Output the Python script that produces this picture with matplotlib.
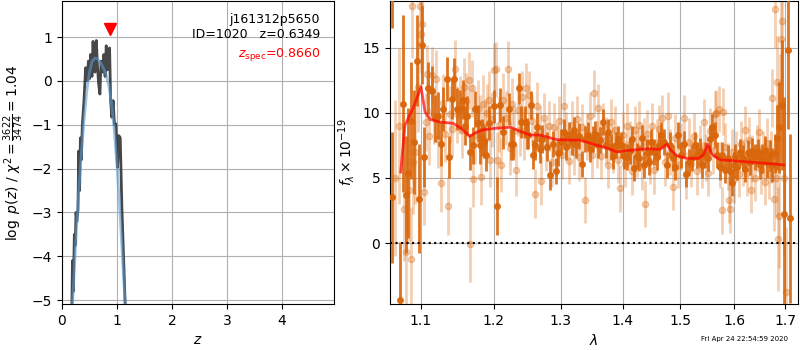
import numpy as np
import matplotlib
matplotlib.use("Agg")
import matplotlib.pyplot as plt
from matplotlib.ticker import FixedLocator, NullLocator, FixedFormatter

# ---------------- p(z) panel data ----------------
pz_z = [0.18, 0.19, 0.205, 0.225, 0.24, 0.255, 0.27, 0.29, 0.305, 0.32, 0.335, 0.35, 0.37,
        0.40, 0.43, 0.46, 0.48, 0.50, 0.52, 0.545, 0.565, 0.585, 0.60, 0.625, 0.645,
        0.665, 0.69, 0.71, 0.735, 0.76, 0.785, 0.805, 0.825, 0.845, 0.866, 0.885,
        0.907, 0.93, 0.955, 0.98, 1.01, 1.035, 1.06, 1.09, 1.12, 1.15]
pz_logp = [-5.1, -4.1, -4.8, -3.5, -3.75, -3.0, -3.2, -2.95, -1.6, -2.5, -1.3, -1.8, -1.0,
           -0.45, 0.3, 0.0, 0.45, 0.05, 0.6, 0.1, 0.9, 0.3, 0.2, 0.92, 0.35,
           -0.05, -0.3, 0.45, 0.2, 0.6, 0.1, 0.8, 0.25, 0.7, 0.75, -0.45,
           -0.83, -0.45, -1.0, -0.98, -1.97, -1.25, -1.3, -2.9, -4.0, -5.1]
pz_smooth_z = [0.19, 0.25, 0.30, 0.35, 0.40, 0.45, 0.50, 0.55, 0.60, 0.65, 0.70, 0.75,
               0.80, 0.85, 0.90, 0.95, 1.00, 1.05, 1.10, 1.15]
pz_smooth_logp = [-5.1, -3.7, -2.6, -1.7, -0.9, -0.25, 0.2, 0.45, 0.52, 0.5, 0.42, 0.3,
                  0.15, -0.1, -0.5, -1.1, -1.9, -2.9, -4.0, -5.1]
z_spec = 0.8660
z_best = 0.6349

# ---------------- spectrum panel data ----------------
dark_wave = [1.063, 1.063, 1.0727, 1.0768, 1.080, 1.083, 1.0876, 1.091, 1.095, 1.098, 1.1009,
             1.1045, 1.109, 1.115, 1.119, 1.123, 1.126, 1.130, 1.1343, 1.138, 1.141, 1.1445,
             1.148, 1.152, 1.156, 1.159, 1.1625, 1.167, 1.170, 1.174, 1.177, 1.180, 1.1835,
             1.186, 1.1895, 1.193, 1.2005, 1.204, 1.2095, 1.214, 1.2215, 1.225, 1.228, 1.2365,
             1.240, 1.245, 1.2485, 1.250, 1.254, 1.257, 1.261, 1.264, 1.268, 1.271, 1.2785,
             1.283, 1.288, 1.292, 1.296, 1.300, 1.305, 1.309, 1.3135, 1.317, 1.321, 1.3245,
             1.3288, 1.3336, 1.3383, 1.3426, 1.3465, 1.3505, 1.3544, 1.359, 1.3625, 1.3675,
             1.3718, 1.376, 1.3805, 1.3845, 1.389, 1.393, 1.398, 1.403, 1.4075, 1.4115, 1.4155,
             1.419, 1.4236, 1.4275, 1.432, 1.4366, 1.4405, 1.4445, 1.449, 1.454, 1.458, 1.4625,
             1.4665, 1.4715, 1.476, 1.481, 1.486, 1.491, 1.495, 1.501, 1.506, 1.511, 1.516,
             1.5215, 1.527, 1.531, 1.5355, 1.540, 1.545, 1.5495, 1.5545, 1.5586, 1.5635, 1.568,
             1.573, 1.5774, 1.5825, 1.587, 1.5915, 1.596, 1.5985, 1.601, 1.606, 1.6115, 1.616,
             1.620, 1.6255, 1.6305, 1.635, 1.6405, 1.645, 1.650, 1.6545, 1.660, 1.6645, 1.6695,
             1.674, 1.679, 1.6835, 1.688, 1.693, 1.698, 1.705, 1.711]
dark_flux = [19.5, 3.5, -4.4, 10.7, 3.7, 5.4, 9.4, 7.8, 14.0, 3.4, 15.2,
             6.6, 11.9, 11.7, 9.6, 9.8, 7.6, 10.3, 12.6, 6.6, 11.1, 12.6,
             10.3, 10.3, 11.0, 9.0, 9.8, 7.0, 7.5, 10.3, 9.2, 7.5, 8.1,
             7.8, 6.8, 9.2, 10.5, 2.85, 10.6, 8.5, 10.3, 7.6, 7.6, 11.9,
             9.3, 9.3, 8.4, 8.3, 10.6, 6.8, 7.5, 8.9, 7.25, 8.0, 7.4,
             5.2, 7.6, 5.5, 6.9, 7.8, 8.5, 7.4, 8.3, 7.8, 8.7, 7.5,
             8.2, 6.05, 8.0, 8.3, 7.25, 8.0, 8.4, 7.5, 7.9, 9.3,
             7.5, 8.5, 7.4, 6.7, 7.5, 8.0, 7.5, 6.7, 6.6, 7.1, 8.0,
             5.8, 6.7, 6.5, 8.1, 6.0, 7.0, 6.2, 7.8, 7.0, 6.6, 7.5,
             8.3, 7.8, 6.0, 7.5, 6.5, 5.85, 8.3, 6.75, 7.6, 5.3, 6.2,
             6.5, 7.5, 6.75, 7.1, 6.0, 6.75, 6.5, 8.0, 8.9, 8.3, 6.75,
             5.85, 6.75, 5.6, 6.5, 5.5, 4.65, 6.0, 6.6, 5.85, 7.0, 6.5,
             5.7, 6.9, 6.2, 7.1, 6.6, 7.0, 6.0, 6.5, 7.1, 6.2, 6.75,
             6.0, 6.9, 8.1, 8.9, 10.6, 2.25, 14.8, 1.9]
dark_err = [3.0, 5.0, 4.5, 6.8, 4.5, 5.0, 4.5, 4.0, 3.5, 4.2, 3.0,
            2.3, 2.0, 1.9, 1.8, 1.8, 1.7, 1.7, 1.7, 1.6, 1.6, 1.6,
            1.6, 1.5, 1.5, 1.5, 1.5, 1.4, 1.4, 1.4, 1.4, 1.4, 1.4,
            1.3, 1.3, 1.3, 1.3, 2.2, 1.3, 1.3, 1.2, 1.2, 1.2, 1.2,
            1.2, 1.2, 1.2, 1.1, 1.1, 1.1, 1.1, 1.1, 1.1, 1.1, 1.1,
            1.1, 1.0, 1.0, 1.0, 1.0, 1.0, 1.0, 1.0, 1.0, 1.0, 1.0,
            1.0, 1.0, 1.0, 1.0, 1.0, 1.0, 1.0, 1.0, 1.0, 1.0,
            1.0, 1.0, 1.0, 1.0, 1.0, 1.0, 1.0, 1.0, 1.0, 1.0, 1.0,
            1.0, 1.0, 1.0, 1.0, 1.0, 1.0, 1.0, 1.0, 1.0, 1.0, 1.0,
            1.0, 1.0, 1.0, 1.0, 1.0, 1.0, 1.0, 1.0, 1.0, 1.0, 1.0,
            1.0, 1.0, 1.0, 1.0, 1.0, 1.0, 1.0, 1.0, 1.0, 1.0, 1.0,
            1.0, 1.0, 1.0, 1.0, 1.0, 1.0, 1.0, 1.0, 1.0, 1.0, 1.0,
            1.0, 1.0, 1.0, 1.0, 1.0, 1.0, 1.1, 1.1, 1.1, 1.2, 1.2,
            1.3, 1.5, 2.5, 3.5, 5.0, 9.0, 6.0, 6.5]

light_wave = [1.066, 1.072, 1.078, 1.081, 1.084, 1.087, 1.088, 1.090, 1.092, 1.096, 1.099, 1.100,
              1.102, 1.1045, 1.107, 1.108, 1.111, 1.1145, 1.117, 1.1205, 1.123, 1.1265, 1.129,
              1.132, 1.136, 1.139, 1.142, 1.1455, 1.149, 1.152, 1.155, 1.158, 1.161, 1.165,
              1.166, 1.169, 1.171, 1.174, 1.177, 1.180, 1.182, 1.185, 1.188, 1.190, 1.193,
              1.195, 1.198, 1.2005, 1.203, 1.205, 1.208, 1.211, 1.214, 1.217, 1.220, 1.223,
              1.226, 1.229, 1.2325, 1.235, 1.238, 1.241, 1.244, 1.247, 1.251, 1.256, 1.260,
              1.264, 1.268, 1.270, 1.274, 1.278, 1.282, 1.286, 1.290, 1.294, 1.298, 1.302,
              1.305, 1.309, 1.313, 1.317, 1.321, 1.325, 1.329, 1.333, 1.338, 1.342, 1.346,
              1.350, 1.353, 1.357, 1.360, 1.364, 1.368, 1.372, 1.376, 1.380, 1.384, 1.388,
              1.392, 1.396, 1.400, 1.404, 1.408, 1.412, 1.416, 1.420, 1.424, 1.428, 1.432,
              1.436, 1.438, 1.442, 1.446, 1.450, 1.454, 1.458, 1.462, 1.468, 1.472, 1.478,
              1.482, 1.487, 1.491, 1.496, 1.501, 1.506, 1.510, 1.515, 1.520, 1.525, 1.530,
              1.535, 1.539, 1.543, 1.547, 1.551, 1.555, 1.559, 1.563, 1.566, 1.570, 1.573,
              1.576, 1.579, 1.583, 1.587, 1.590, 1.592, 1.596, 1.600, 1.604, 1.608, 1.612,
              1.616, 1.620, 1.624, 1.628, 1.6315, 1.635, 1.639, 1.643, 1.647, 1.651, 1.655,
              1.659, 1.663, 1.667, 1.671, 1.674, 1.678, 1.680, 1.682, 1.684, 1.685, 1.688,
              1.690, 1.6925, 1.694, 1.697, 1.701]
light_flux = [5.0, 9.0, 2.6, -0.7, 4.05, -1.2, 18.2, 6.2, 7.0, 12.0, 18.2, 16.1,
              16.8, 3.9, 9.3, 13.0, 8.2, 12.9, 9.8, 12.6, 8.0, 4.6, 10.8,
              8.4, 2.85, 9.9, 8.8, 13.4, 9.9, 10.6, 8.7, 12.0, 10.9, 12.5,
              -0.1, 11.9, 4.95, 8.3, 10.3, 9.2, 5.1, 10.7, 8.9, 10.0, 11.0,
              6.4, 9.5, 13.3, 13.35, 6.4, 9.1, 6.0, 11.0, 9.6, 13.4, 7.3,
              10.7, 8.6, 5.6, 10.2, 8.7, 11.2, 8.4, 11.9, 11.35, 9.4, 3.8,
              10.5, 8.6, 4.8, 9.6, 7.4, 9.0, 6.2, 8.9, 7.2, 9.4, 6.8,
              10.5, 8.3, 6.3, 9.1, 7.0, 9.5, 6.6, 8.9, 3.3, 8.2, 9.8,
              6.8, 11.5, 7.6, 10.4, 6.7, 9.0, 7.9, 6.0, 9.3, 7.2, 8.7,
              6.4, 4.2, 8.3, 6.1, 9.0, 7.6, 5.5, 8.7, 6.9, 9.1, 5.9,
              7.8, 3.0, 8.4, 6.3, 9.0, 5.6, 7.7, 8.8, 9.6, 6.2, 9.8,
              7.0, 4.3, 8.1, 6.0, 7.4, 9.6, 5.2, 7.8, 6.1, 8.2, 5.5,
              7.3, 6.0, 9.3, 6.6, 5.4, 8.6, 7.1, 9.9, 10.0, 10.3, 6.0,
              2.5, 10.1, 7.4, 5.9, 3.3, 2.6, 7.0, 4.9, 6.8, 5.3, 7.6,
              6.2, 8.7, 5.4, 7.9, 4.1, 6.5, 5.0, 7.3, 8.5, 5.6, 6.8,
              4.7, 7.7, 5.3, 6.6, 11.15, 3.4, 18.0, 5.0, 12.4, 0.3, 2.1,
              10.5, 15.7, 17.1, 5.0, -3.8]
light_err = [6.0, 6.0, 4.0, 4.0, 4.0, 4.0, 4.0, 4.0, 4.0, 3.5, 3.0, 3.0,
             3.0, 2.5, 2.2, 2.2, 2.2, 2.2, 2.2, 2.2, 2.2, 2.2, 2.2,
             2.2, 2.2, 2.2, 2.2, 2.2, 2.2, 2.2, 2.2, 2.2, 2.2, 2.2,
             2.9, 2.2, 2.2, 2.2, 2.2, 2.2, 2.2, 2.2, 2.2, 2.2, 2.2,
             2.1, 2.1, 2.1, 2.1, 2.1, 2.1, 2.1, 2.1, 2.1, 2.1, 2.1,
             2.0, 2.0, 2.0, 2.0, 2.0, 2.0, 2.0, 1.9, 1.9, 1.9, 1.9,
             1.9, 1.9, 1.9, 1.9, 1.9, 1.9, 1.9, 1.9, 1.9, 1.9, 1.9,
             1.8, 1.8, 1.8, 1.8, 1.8, 1.8, 1.8, 1.8, 1.8, 1.8, 1.8,
             1.8, 1.8, 1.8, 1.8, 1.8, 1.8, 1.8, 1.8, 1.8, 1.8, 1.8,
             1.8, 1.8, 1.8, 1.8, 1.8, 1.8, 1.8, 1.8, 1.8, 1.8, 1.8,
             1.8, 1.8, 1.8, 1.8, 1.8, 1.8, 1.8, 1.8, 1.8, 1.8, 1.8,
             1.8, 1.8, 1.8, 1.8, 1.8, 1.8, 1.8, 1.8, 1.8, 1.8, 1.8,
             1.8, 1.8, 1.8, 1.8, 1.8, 1.8, 1.8, 1.8, 1.8, 1.8, 1.8,
             1.8, 1.8, 1.8, 1.8, 1.8, 1.8, 1.8, 1.8, 1.8, 1.8, 1.8,
             1.8, 1.8, 1.8, 1.8, 1.8, 1.8, 1.8, 1.8, 1.8, 1.8, 1.8,
             1.8, 1.9, 1.9, 2.0, 2.2, 2.5, 3.0, 3.0, 3.5, 4.0, 4.0,
             4.0, 5.0, 5.0, 6.0, 5.0]

model_wave = [1.0736, 1.0791, 1.0899, 1.100, 1.1053, 1.1119, 1.1252, 1.1431, 1.1543, 1.1659,
              1.1752, 1.1845, 1.1996, 1.2236, 1.2383, 1.2531, 1.2682, 1.2937, 1.3305, 1.3520,
              1.3737, 1.3903, 1.4070, 1.4411, 1.4642, 1.4760, 1.4818, 1.4937, 1.5117, 1.5330,
              1.5422, 1.5502, 1.5576, 1.5732, 1.6050, 1.6374, 1.6702, 1.6972]
model_flux = [5.46, 9.05, 10.4, 12.0, 10.1, 9.5, 9.3, 9.2, 8.8, 8.2,
              8.5, 8.7, 8.8, 8.9, 8.6, 8.3, 8.3, 7.95, 7.9, 7.6,
              7.3, 7.0, 7.1, 7.25, 7.2, 7.6, 7.2, 6.7, 6.5, 6.5,
              6.8, 7.6, 6.8, 6.4, 6.3, 6.2, 6.1, 6.0]

wave_ticks = [1.1, 1.2, 1.3, 1.4, 1.5, 1.6, 1.7]
flux_ticks = [0, 5, 10, 15]
z_ticks = [0, 1, 2, 3, 4]
logp_ticks = [-5, -4, -3, -2, -1, 0, 1]

orange = '#d9660a'

fig = plt.figure(figsize=(8, 3.5), dpi=100)

# ---- left panel ----
ax1 = fig.add_axes([0.0775, 0.131, 0.34, 0.866])
ax1.plot(pz_z, pz_logp, color='0.2', lw=2, alpha=0.9, zorder=3)
ax1.plot(pz_smooth_z, pz_smooth_logp, color='#5b9bd5', lw=2, alpha=0.6, zorder=4)
ax1.plot([z_spec], [1.18], marker='v', color='red', ms=8, zorder=5, linestyle='none')
ax1.set_xlim(0, 4.95)
ax1.set_ylim(-5.09, 1.82)
ax1.set_xticks(z_ticks)
ax1.set_yticks(logp_ticks)
ax1.grid(True, color='#b0b0b0', lw=0.8)
ax1.set_xlabel('$z$')
ax1.set_ylabel(r'$\log\ p(z)$ / $\chi^2=\frac{3622}{3474}=1.04$')
ax1.text(0.949, 0.94, 'j161312p5650', transform=ax1.transAxes, ha='right', va='center', fontsize=9)
ax1.text(0.949, 0.888, 'ID=1020   z={0:.4f}'.format(z_best), transform=ax1.transAxes,
         ha='right', va='center', fontsize=9)
ax1.text(0.949, 0.825, r'$z_\mathrm{spec}$=' + '{0:.4f}'.format(z_spec), transform=ax1.transAxes,
         ha='right', va='center', fontsize=9, color='red')

# ---- right panel ----
ax2 = fig.add_axes([0.4875, 0.131, 0.51, 0.866])
ax2.errorbar(light_wave, light_flux, yerr=light_err, marker='o', ms=4.5, color=orange,
             alpha=0.3, linestyle='none', elinewidth=2, zorder=2)
ax2.errorbar(dark_wave, dark_flux, yerr=dark_err, marker='o', ms=4, color=orange,
             alpha=0.9, linestyle='none', elinewidth=2, zorder=3)
ax2.plot(model_wave, model_flux, color='red', lw=2, alpha=0.7, zorder=5)
ax2.axhline(0, color='k', linestyle=':', lw=1.5, zorder=4)
ax2.set_xscale('log')
ax2.set_xlim(1.06, 1.7265)
ax2.set_ylim(-4.7, 18.6)
ax2.xaxis.set_major_locator(FixedLocator(wave_ticks))
ax2.xaxis.set_major_formatter(FixedFormatter(['{0:.1f}'.format(t) for t in wave_ticks]))
ax2.xaxis.set_minor_locator(NullLocator())
ax2.set_yticks(flux_ticks)
ax2.grid(True, color='#b0b0b0', lw=0.8)
ax2.set_xlabel(r'$\lambda$')
ax2.set_ylabel(r'$f_\lambda\times10^{-19}$')

fig.text(0.931, 0.031, 'Fri Apr 24 22:54:59 2020', ha='center', va='center', fontsize=5)

fig.savefig('out.png', dpi=100)
